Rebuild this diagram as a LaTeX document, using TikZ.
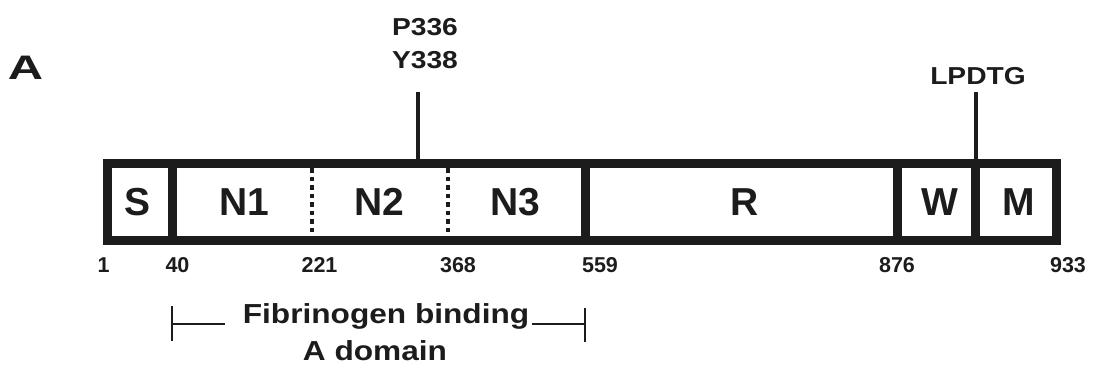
\documentclass[tikz,border=0pt]{standalone}
\usepackage{graphicx}
\usepackage{fontspec}
\setmainfont{Liberation Sans}
\newfontfamily\widefont{Liberation Sans}[FakeStretch=1.15]
\definecolor{ink}{HTML}{1C1C1C}
\begin{document}
\begin{tikzpicture}[x=1pt,y=-1pt,
  frame/.style={draw=ink, line width=9pt, inner sep=0pt, outer sep=0pt},
  divider/.style={draw=ink, line width=9pt},
  dotdiv/.style={draw=ink, line width=4pt, dash pattern=on 4.5pt off 4pt},
  tick/.style={draw=ink, line width=4pt},
  bracket/.style={draw=ink, line width=2.5pt},
  dom/.style={inner sep=0pt, font=\fontsize{39}{41}\selectfont\bfseries, text=ink},
  num/.style={inner sep=0pt, anchor=base, font=\fontsize{21.5}{24}\selectfont\bfseries, text=ink},
  site/.style={inner sep=0pt, anchor=base, font=\fontsize{24.5}{28}\selectfont\widefont\bfseries, text=ink},
  note/.style={inner sep=0pt, anchor=base, font=\fontsize{27.5}{30}\selectfont\widefont\bfseries, text=ink},
  panel/.style={inner sep=0pt, anchor=base, font=\fontsize{34}{36}\selectfont\widefont\bfseries, text=ink},
]
\useasboundingbox (0,0) rectangle (1094,378);
\fill[white] (0,0) rectangle (1094,378);

% panel letter
\node[panel] (pA) at (25.5,79) {\scalebox{1.25}[1]{A}};

% outer frame
\node[frame, minimum width=948.5pt, minimum height=77pt] (box) at (581.75,202) {};

% divider positions
\coordinate (dSN) at (172,202);
\coordinate (dN12) at (312,202);
\coordinate (dN23) at (448,202);
\coordinate (dNR) at (585.5,202);
\coordinate (dRW) at (897.5,202);
\coordinate (dWM) at (975,202);

\draw[divider] (dSN |- box.north) -- (dSN |- box.south);
\draw[divider] (dNR |- box.north) -- (dNR |- box.south);
\draw[divider] (dRW |- box.north) -- (dRW |- box.south);
\draw[divider] (dWM |- box.north) -- (dWM |- box.south);
\draw[dotdiv, shorten <=4.5pt, shorten >=4.5pt] (dN12 |- box.north) -- (dN12 |- box.south);
\draw[dotdiv, shorten <=4.5pt, shorten >=4.5pt] (dN23 |- box.north) -- (dN23 |- box.south);

% domain labels
\node[dom] (S) at (137.5,202) {S};
\node[dom] (N1) at (244.5,202) {N1};
\node[dom] (N2) at (379.5,202) {N2};
\node[dom] (N3) at (515,202) {N3};
\node[dom] (R) at (745,202) {R};
\node[dom] (W) at (940,202) {W};
\node[dom] (M) at (1019,202) {M};

% residue numbers
\node[num] (n1) at (103.5,272) {1};
\node[num] (n40) at (177.5,272) {40};
\node[num] (n221) at (319.5,272) {221};
\node[num] (n368) at (458,272) {368};
\node[num] (n559) at (600,272) {559};
\node[num] (n876) at (897,272) {876};
\node[num] (n933) at (1068,272) {933};

% site labels and ticks
\node[site] (p336) at (425,35) {P336};
\node[site] (y338) at (425,68) {Y338};
\node[site] (lpdtg) at (978,84) {LPDTG};
\coordinate (t1) at (418,92);
\coordinate (t2) at (975.5,92);
\draw[tick] (t1) -- (t1 |- box.north);
\draw[tick] (t2) -- (t2 |- box.north);

% fibrinogen binding bracket
\node[note] (fib) at (386,323) {Fibrinogen binding};
\node[note] (adom) at (375,360) {A domain};
\coordinate (bL) at (172,324);
\coordinate (bLend) at (225,324);
\coordinate (bRend) at (532,324);
\coordinate (bR) at (585,324);
\draw[bracket] (bL) -- (bLend);
\draw[bracket] (bRend) -- (bR);
\draw[bracket] (bL) ++(0,-18) -- ++(0,35);
\draw[bracket] (bR) ++(0,-16) -- ++(0,34);
\end{tikzpicture}
\end{document}
